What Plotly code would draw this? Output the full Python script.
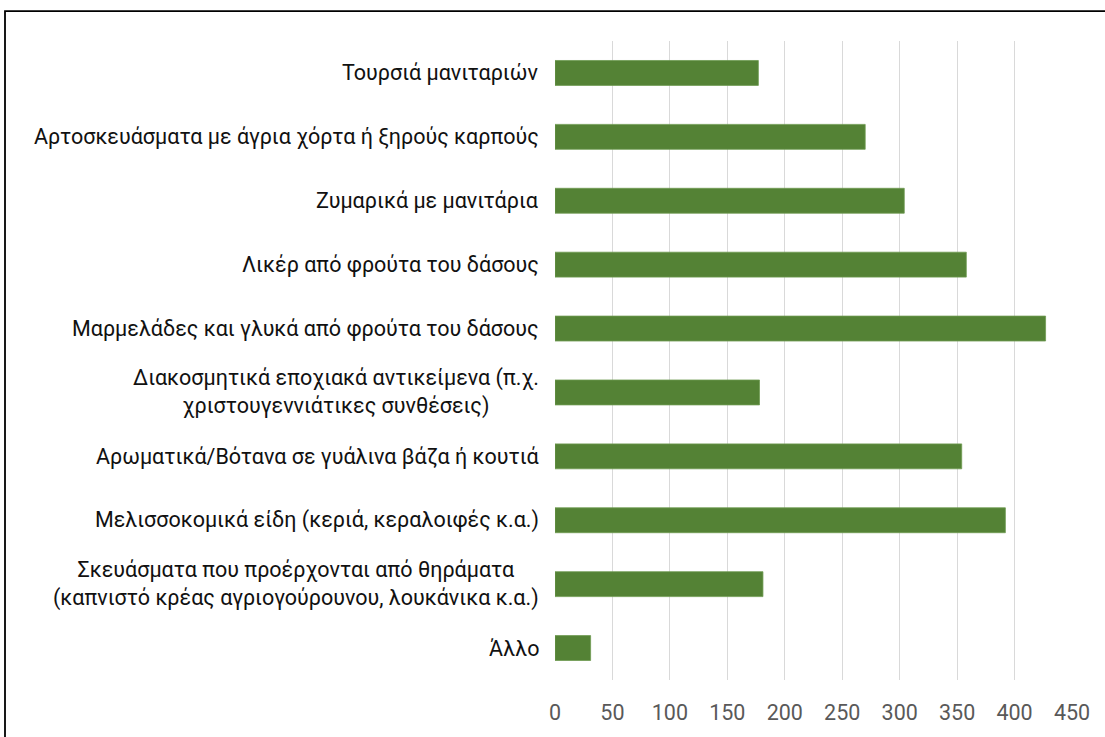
import plotly.graph_objects as go

categories = [
    "Τουρσιά μανιταριών",
    "Αρτοσκευάσματα με άγρια χόρτα ή ξηρούς καρπούς",
    "Ζυμαρικά με μανιτάρια",
    "Λικέρ από φρούτα του δάσους",
    "Μαρμελάδες και γλυκά από φρούτα του δάσους",
    "Διακοσμητικά εποχιακά αντικείμενα (π.χ.<br>χριστουγεννιάτικες συνθέσεις)",
    "Αρωματικά/Βότανα σε γυάλινα βάζα ή κουτιά",
    "Μελισσοκομικά είδη (κεριά, κεραλοιφές κ.α.)",
    "Σκευάσματα που προέρχονται από θηράματα<br>(καπνιστό κρέας αγριογούρουνου, λουκάνικα κ.α.)",
    "Άλλο",
]
values = [177, 270, 304, 358, 427, 178, 354, 392, 181, 31]
x_ticks = [0, 50, 100, 150, 200, 250, 300, 350, 400, 450]

W, H = 1105, 737
L, R, T, B = 555, 33, 41, 55
pw = W - L - R
ph = H - T - B

FONT = "Roboto, 'Noto Sans', sans-serif"

fig = go.Figure()
fig.add_trace(go.Bar(
    x=values,
    y=categories,
    orientation="h",
    marker=dict(color="#548235", line=dict(color="#6f9a52", width=0.8)),
    hoverinfo="x+y",
))

for cat in categories:
    fig.add_annotation(
        x=0, y=cat, xref="x", yref="y",
        text=cat, showarrow=False,
        xanchor="right", yanchor="middle", align="center",
        xshift=-14,
        font=dict(family=FONT, size=21.5, color="#111111"),
    )

# outer frame (top-left corner at pixel (5, 11), extends beyond the view)
fig.add_shape(
    type="rect", xref="paper", yref="paper",
    x0=(5 - L) / pw, x1=(W + 10 - L) / pw,
    y0=-(H + 10 - (T + ph)) / ph, y1=(T + ph - 11) / ph,
    line=dict(color="#000000", width=1.8),
    fillcolor="rgba(0,0,0,0)",
    layer="below",
)

fig.update_layout(
    width=W, height=H,
    margin=dict(l=L, r=R, t=T, b=B),
    paper_bgcolor="white",
    plot_bgcolor="white",
    showlegend=False,
    bargap=0.61,
    font=dict(family=FONT),
    xaxis=dict(
        range=[0, 450],
        tickvals=x_ticks,
        ticktext=[str(v) for v in x_ticks],
        showgrid=True,
        gridcolor="#d9d9d9",
        gridwidth=1.3,
        zeroline=False,
        showline=False,
        ticks="",
        ticklabelstandoff=17,
        tickfont=dict(family=FONT, size=21.5, color="#595959"),
    ),
    yaxis=dict(
        categoryorder="array",
        categoryarray=categories,
        autorange="reversed",
        showticklabels=False,
        showgrid=False,
        zeroline=False,
        showline=False,
        ticks="",
    ),
)

fig.write_html(
    "out.html",
    config={"displayModeBar": False},
    post_script="document.body.style.margin='0';document.body.style.overflow='hidden';",
)
